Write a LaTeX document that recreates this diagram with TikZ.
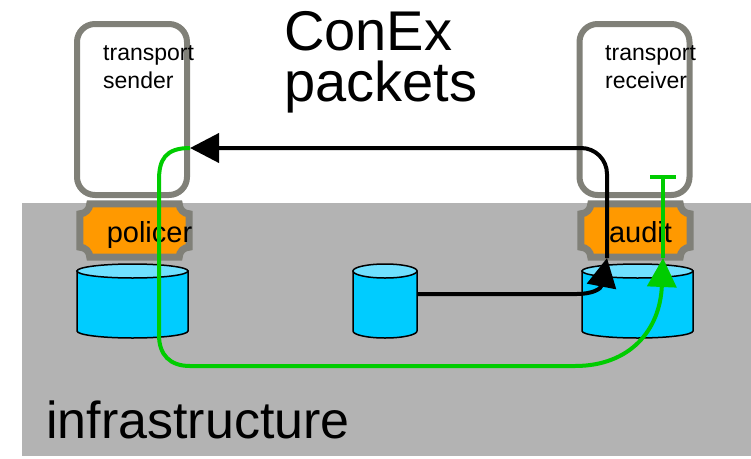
\documentclass[tikz,border=0pt]{standalone}
\usepackage{fontspec}
\setmainfont{Liberation Sans}
\usetikzlibrary{arrows.meta,calc}
\definecolor{infragray}{HTML}{B3B3B3}
\definecolor{boxgray}{HTML}{808078}
\definecolor{fnorange}{HTML}{FF9900}
\definecolor{cylbody}{HTML}{00CCFF}
\definecolor{cyltop}{HTML}{70E0FF}
\definecolor{pathgreen}{HTML}{00CC00}
\newcommand\concavebox[2]{%
  \path[#2] let \p1=(#1.north west), \p2=(#1.south east), \n1={10pt} in
    ({\x1+\n1},\y1) -- ({\x2-\n1},\y1)
    .. controls ({\x2-\n1},{\y1-0.55*\n1}) and ({\x2-0.55*\n1},{\y1-\n1}) .. (\x2,{\y1-\n1})
    -- (\x2,{\y2+\n1})
    .. controls ({\x2-0.55*\n1},{\y2+\n1}) and ({\x2-\n1},{\y2+0.55*\n1}) .. ({\x2-\n1},\y2)
    -- ({\x1+\n1},\y2)
    .. controls ({\x1+\n1},{\y2+0.55*\n1}) and ({\x1+0.55*\n1},{\y2+\n1}) .. (\x1,{\y2+\n1})
    -- (\x1,{\y1-\n1})
    .. controls ({\x1+0.55*\n1},{\y1-\n1}) and ({\x1+\n1},{\y1-0.55*\n1}) .. cycle;}
\tikzset{
  hostbox/.style={draw=boxgray, line width=6pt, fill=white, rounded corners=18pt,
    minimum width=110pt, minimum height=171pt, inner sep=0pt},
  fnslot/.style={inner sep=0pt, minimum width=109pt, minimum height=53pt},
  fnstyle/.style={draw=boxgray, line width=7pt, fill=fnorange},
  smalltxt/.style={inner sep=0pt, align=left, font=\fontsize{23}{28}\selectfont},
  fntxt/.style={inner sep=0pt, anchor=base, font=\fontsize{29}{34}\selectfont},
  cylslot/.style={inner sep=0pt},
  blk/.style={draw=black, line width=4pt},
  grn/.style={draw=pathgreen, line width=4pt},
  tip/.style={-{Triangle[length=29pt,width=29pt]}},
  pics/dbcyl/.style args={#1/#2}{code={
    \path[fill=cylbody, draw=black, line width=1.5pt]
      (-#1/2,-#2/2+7) -- (-#1/2,#2/2-7)
      arc[start angle=180, end angle=0, x radius=#1/2, y radius=7]
      -- (#1/2,-#2/2+7) -- cycle;
    \path[fill=cyltop, draw=black, line width=1.5pt]
      (0,-#2/2+7) ellipse[x radius=#1/2, y radius=7];
  }}
}
\begin{document}
\begin{tikzpicture}[x=1pt,y=-1pt]
\useasboundingbox (0,0) rectangle (751,458);
% infrastructure band
\fill[infragray] (22,203) rectangle (751,456);
\node[inner sep=0pt, anchor=base west, font=\fontsize{52}{60}\selectfont] (infra) at (46,438) {infrastructure};
% title
\node[inner sep=0pt, anchor=north west, align=left, font=\fontsize{56}{51}\selectfont] (title) at (284,11) {ConEx\\packets};
% hosts
\node[hostbox] (snd) at (132,109.5) {};
\node[smalltxt, anchor=north west] (sndt) at (103,45) {transport\\sender};
\node[hostbox] (rcv) at (634.5,109.5) {};
\node[smalltxt, anchor=north west] (rcvt) at (605,45) {transport\\receiver};
% policer and audit
\node[fnslot] (pol) at (134.5,230.5) {};
\concavebox{pol}{fnstyle}
\node[fntxt] (polt) at (149.5,242) {policer};
\node[fnslot] (aud) at (635.5,230.5) {};
\concavebox{aud}{fnstyle}
\node[fntxt] (audt) at (640.5,242) {audit};
% cylinders
\node[cylslot, minimum width=111pt, minimum height=74pt] (cyl1) at (132.5,301) {};
\pic at (cyl1) {dbcyl=111/74};
\node[cylslot, minimum width=64pt, minimum height=74pt] (cyl2) at (385,301) {};
\pic at (cyl2) {dbcyl=64/74};
\node[cylslot, minimum width=111pt, minimum height=74pt] (cyl3) at (637.5,301) {};
\pic at (cyl3) {dbcyl=111/74};
% connector end points
\coordinate (sndin) at ([yshift=-38.5pt]snd.east);
\coordinate (auditin) at (607,258);
\coordinate (gtip) at (663,258);
\coordinate (gbar) at (663,175);
% green path
\draw[grn, tip] (sndin) .. controls (165,148) and (159,160) .. (159,180)
  -- (159,335) .. controls (159,355) and (170,366) .. (190,366)
  -- (575,366) .. controls (630,366) and (660,330) .. (gtip);
\draw[grn, -{Bar[width=26pt]}] (gtip) -- (gbar);
% black paths
\draw[blk, tip] ([yshift=7pt]cyl2.east) -- (577,294) .. controls (592,294) and (601,289) .. (auditin);
\draw[blk, tip, rounded corners=26pt] (auditin) |- (sndin);
\end{tikzpicture}
\end{document}
